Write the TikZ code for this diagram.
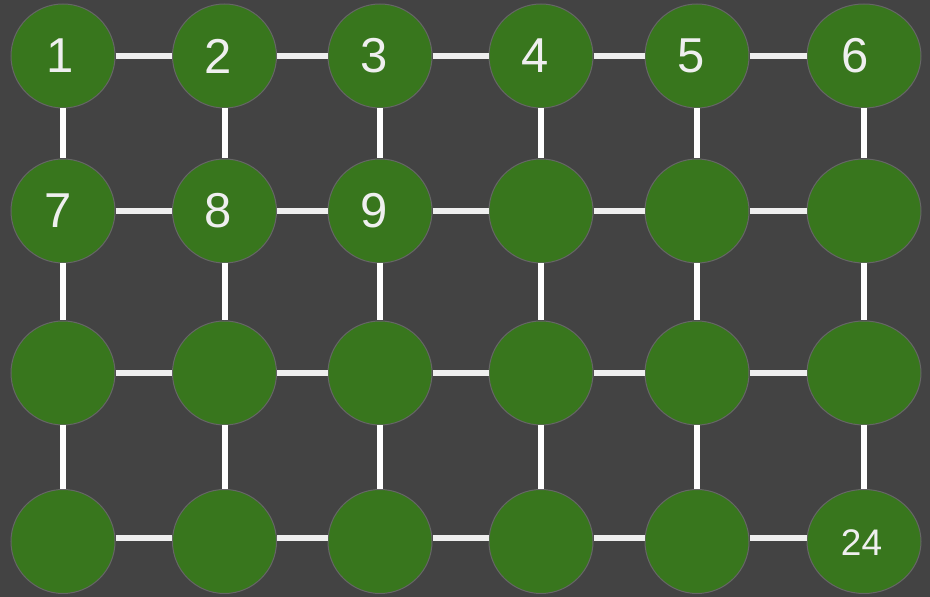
\documentclass[tikz,border=0pt]{standalone}
\usepackage{fontspec}
\setmainfont{Liberation Sans}
\usetikzlibrary{shapes.geometric}
\definecolor{bgc}{HTML}{434343}
\definecolor{nodefill}{HTML}{38761D}
\definecolor{nodeline}{HTML}{666666}
\definecolor{hedge}{HTML}{EFEFEF}
\definecolor{txt}{HTML}{EFEFEF}
\tikzset{
  gnode/.style={circle, fill=nodefill, draw=nodeline, line width=1pt, minimum size=104pt, inner sep=0pt},
  gnodee/.style={ellipse, fill=nodefill, draw=nodeline, line width=1pt, minimum width=114pt, minimum height=104pt, inner sep=0pt},
  hline/.style={draw=hedge, line width=6pt},
  vline/.style={draw=white, line width=6pt},
  lbl/.style={text=txt, font=\fontsize{49}{49}\selectfont, inner sep=0pt},
  lbls/.style={text=txt, font=\fontsize{37}{37}\selectfont, inner sep=0pt}
}
\begin{document}
\begin{tikzpicture}[x=1pt,y=1pt]
\fill[bgc] (0,0) rectangle (930,597);
\useasboundingbox (0,0) rectangle (930,597);
% columns and rows
\def\cA{63}\def\cB{224.5}\def\cC{380}\def\cD{541}\def\cE{697}\def\cF{864}
\def\rA{541}\def\rB{386}\def\rC{224}\def\rD{55.5}
\foreach \r/\y [count=\i from 0] in {A/\rA,B/\rB,C/\rC,D/\rD}{
  \foreach \x [count=\j from 1] in {\cA,\cB,\cC,\cD,\cE}{
    \pgfmathtruncatemacro{\k}{\i*6+\j}
    \node[gnode] (n\k) at (\x,\y) {};
  }
  \pgfmathtruncatemacro{\k}{\i*6+6}
  \node[gnodee] (n\k) at (\cF,\y) {};
}
% horizontal edges
\foreach \i in {0,1,2}{
  \foreach \j in {1,...,5}{
    \pgfmathtruncatemacro{\a}{\i*6+\j}
    \pgfmathtruncatemacro{\b}{\i*6+\j+1}
    \draw[hline] (n\a) -- (n\b);
  }
}
\foreach \j in {1,...,5}{
  \pgfmathtruncatemacro{\a}{18+\j}
  \pgfmathtruncatemacro{\b}{18+\j+1}
  \draw[hline] ([yshift=3pt]n\a.east) -- ([yshift=3pt]n\b.west);
}
% vertical edges
\foreach \i in {0,1,2}{
  \foreach \j in {1,...,6}{
    \pgfmathtruncatemacro{\a}{\i*6+\j}
    \pgfmathtruncatemacro{\b}{\i*6+\j+6}
    \draw[vline] (n\a) -- (n\b);
  }
}
% labels
\node[lbl] (l1) at ([xshift=-3pt]n1) {1};
\node[lbl] (l2) at ([xshift=-6pt]n2) {2};
\node[lbl] (l3) at ([xshift=-6pt]n3) {3};
\node[lbl] (l4) at ([xshift=-6pt]n4) {4};
\node[lbl] (l5) at ([xshift=-5.5pt]n5) {5};
\node[lbl] (l6) at ([xshift=-9pt]n6) {6};
\node[lbl] (l7) at ([xshift=-5pt]n7) {7};
\node[lbl] (l8) at ([xshift=-6pt]n8) {8};
\node[lbl] (l9) at ([xshift=-6pt]n9) {9};
\node[lbls] (l24) at ([xshift=-2.5pt,yshift=-1.5pt]n24) {24};
\end{tikzpicture}
\end{document}
